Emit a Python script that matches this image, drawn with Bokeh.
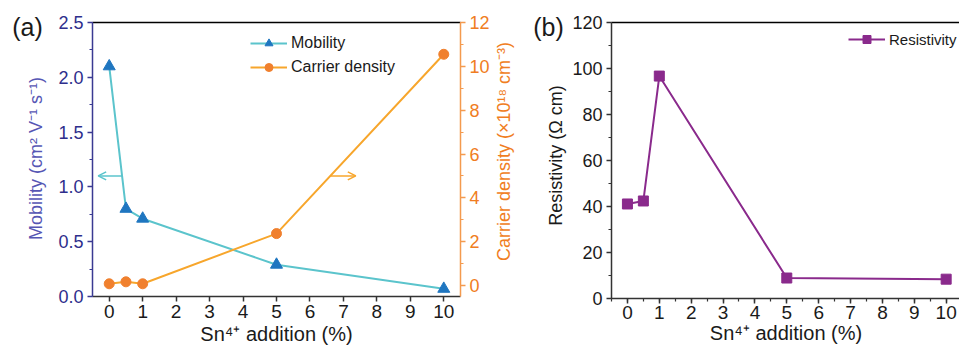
import math
from bokeh.plotting import figure
from bokeh.models import (Range1d, LinearAxis, SingleIntervalTicker, FixedTicker,
                          PrintfTickFormatter, Legend, LegendItem, Arrow, OpenHead, Label)
from bokeh.layouts import row
from bokeh.embed import file_html
from bokeh.resources import INLINE

# ---------------- data ----------------
sn_addition = [0, 0.5, 1, 5, 10]
mobility = [2.10, 0.80, 0.71, 0.29, 0.07]
carrier_density = [0.08, 0.17, 0.08, 2.37, 10.55]
resistivity = [41.1, 42.4, 96.7, 8.9, 8.4]
x_ticks = [0, 1, 2, 3, 4, 5, 6, 7, 8, 9, 10]

FONT = "Liberation Sans"
TICK_SIZE = "18px"
LABEL_SIZE = "18px"
XTICK_SIZE = "19px"
XLABEL_SIZE = "20px"

NAVY = "#2E2E8C"
NAVY_LABEL = "#5656B4"
ORANGE_AX = "#F07D22"
ORANGE_LINE = "#F7A62C"
ORANGE_MARK = "#F0802E"
CYAN = "#5BC4CC"
BLUE_MARK = "#1F76C0"
PURPLE = "#8A2A8C"
BLACK = "#1a1a1a"

P1_W_LEFT, P1_FRAME_W, P1_W_RIGHT = 92, 368, 58
P1_WIDTH = P1_W_LEFT + P1_FRAME_W + P1_W_RIGHT   # 518


def style_axis(ax, color, line_color=None, tick_size=TICK_SIZE, label_size=LABEL_SIZE):
    ax.axis_line_color = line_color or color
    ax.axis_line_width = 1.5
    ax.major_tick_line_color = line_color or color
    ax.minor_tick_line_color = line_color or color
    ax.major_tick_line_width = 1.5
    ax.minor_tick_line_width = 1.2
    ax.major_tick_in = 0
    ax.major_tick_out = 5
    ax.minor_tick_in = 0
    ax.minor_tick_out = 3
    ax.major_label_text_font = FONT
    ax.major_label_text_font_size = tick_size
    ax.major_label_text_color = color
    ax.axis_label_text_font = FONT
    ax.axis_label_text_font_size = label_size
    ax.axis_label_text_font_style = "normal"
    ax.axis_label_text_color = color


def top_border(p):
    top = LinearAxis(ticker=FixedTicker(ticks=[]), major_label_text_font_size="0px",
                     axis_line_color="black", axis_line_width=1.5,
                     major_tick_line_color=None, minor_tick_line_color=None)
    p.add_layout(top, "above")


def side_label(p, text, x, y, place, color=BLACK, size=LABEL_SIZE, angle=0.0):
    lab = Label(x=x, y=y, x_units="canvas", y_units="canvas", text=text, angle=angle,
                text_font=FONT, text_font_size=size, text_color=color,
                text_baseline="middle", text_align="center")
    p.add_layout(lab, place)


# ---------------- panel (a) ----------------
p1 = figure(frame_width=P1_FRAME_W, frame_height=274,
            min_border_left=P1_W_LEFT, min_border_right=P1_W_RIGHT,
            min_border_top=22, min_border_bottom=56,
            x_range=Range1d(-0.5, 10.5), y_range=Range1d(0, 2.5),
            output_backend="svg", toolbar_location=None)
p1.outline_line_color = None
p1.grid.visible = False
p1.background_fill_color = "white"
p1.border_fill_color = "white"

xa = p1.xaxis[0]
xa.ticker = FixedTicker(ticks=x_ticks)
xa.axis_label = "Sn⁴⁺ addition (%)"
style_axis(xa, BLACK, line_color="#333333", tick_size=XTICK_SIZE, label_size=XLABEL_SIZE)
xa.major_label_standoff = 3
xa.axis_label_standoff = 2

ya = p1.yaxis[0]
ya.ticker = SingleIntervalTicker(interval=0.5, num_minor_ticks=2)
ya.formatter = PrintfTickFormatter(format="%.1f")
style_axis(ya, NAVY, line_color="#3A3A92")
ya.major_label_standoff = 4

p1.extra_y_ranges = {"cd": Range1d(-0.5, 12)}
right_ax = LinearAxis(y_range_name="cd",
                      ticker=SingleIntervalTicker(interval=2, num_minor_ticks=2))
style_axis(right_ax, ORANGE_AX, line_color="#F49A4E")
right_ax.major_label_standoff = 4
p1.add_layout(right_ax, "right")

top_border(p1)

lm = p1.line(sn_addition, mobility, line_color=CYAN, line_width=2)
sm = p1.scatter(sn_addition, mobility, marker="triangle", size=12,
                fill_color=BLUE_MARK, line_color=BLUE_MARK)
lc = p1.line(sn_addition, carrier_density, line_color=ORANGE_LINE, line_width=2, y_range_name="cd")
sc = p1.scatter(sn_addition, carrier_density, marker="circle", size=10,
                fill_color=ORANGE_MARK, line_color=ORANGE_MARK, y_range_name="cd")

leg1 = Legend(items=[LegendItem(label="Mobility", renderers=[lm, sm]),
                     LegendItem(label="Carrier density", renderers=[lc, sc])],
              location=(158, 219), orientation="vertical")
leg1.border_line_color = None
leg1.background_fill_alpha = 0
leg1.padding = 0
leg1.margin = 0
leg1.spacing = 4
leg1.glyph_width = 37
leg1.glyph_height = 20
leg1.label_height = 20
leg1.label_standoff = 4
leg1.label_text_font = FONT
leg1.label_text_font_size = "16px"
leg1.label_text_color = BLACK
p1.add_layout(leg1)

p1.add_layout(Arrow(end=OpenHead(size=8, line_color=CYAN, line_width=1.5),
                    x_start=0.38, y_start=1.1, x_end=-0.33, y_end=1.1,
                    line_color=CYAN, line_width=1.5))
p1.add_layout(Arrow(end=OpenHead(size=8, line_color=ORANGE_LINE, line_width=1.5),
                    x_start=6.6, y_start=5.0, x_end=7.37, y_end=5.0,
                    line_color=ORANGE_LINE, line_width=1.5, y_range_name="cd"))

side_label(p1, "(a)", 27, 26, "left", size="25px")
side_label(p1, "Mobility (cm² V⁻¹ s⁻¹)", 35, 158, "left", color=NAVY_LABEL, angle=math.pi / 2)
side_label(p1, "Carrier density (×10¹⁸ cm⁻³)", 503, 151, "right", color=ORANGE_AX, angle=math.pi / 2)

# ---------------- panel (b) ----------------
p2 = figure(frame_width=349, frame_height=276,
            min_border_left=610 - P1_WIDTH, min_border_right=0,
            min_border_top=22, min_border_bottom=54,
            x_range=Range1d(-0.5, 10.45), y_range=Range1d(0, 120),
            output_backend="svg", toolbar_location=None)
p2.outline_line_color = None
p2.grid.visible = False
p2.background_fill_color = "white"
p2.border_fill_color = "white"

xb = p2.xaxis[0]
xb.ticker = SingleIntervalTicker(interval=1, num_minor_ticks=2)
xb.axis_label = "Sn⁴⁺ addition (%)"
style_axis(xb, BLACK, line_color="#333333", tick_size=XTICK_SIZE, label_size=XLABEL_SIZE)
xb.major_label_standoff = 2
xb.axis_label_standoff = 0

yb = p2.yaxis[0]
yb.ticker = SingleIntervalTicker(interval=20, num_minor_ticks=2)
style_axis(yb, BLACK, line_color="#333333")
yb.major_label_standoff = 4

top_border(p2)

lr = p2.line(sn_addition, resistivity, line_color=PURPLE, line_width=2)
sr = p2.scatter(sn_addition, resistivity, marker="square", size=10,
                fill_color=PURPLE, line_color=PURPLE)

leg2 = Legend(items=[LegendItem(label="Resistivity", renderers=[lr, sr])],
              location=(237, 249))
leg2.border_line_color = None
leg2.background_fill_alpha = 0
leg2.padding = 0
leg2.margin = 0
leg2.glyph_width = 37
leg2.glyph_height = 20
leg2.label_height = 20
leg2.label_standoff = 4
leg2.label_text_font = FONT
leg2.label_text_font_size = "15px"
leg2.label_text_color = BLACK
p2.add_layout(leg2)

side_label(p2, "(b)", 548 - P1_WIDTH, 26, "left", size="25px")
side_label(p2, "Resistivity (Ω cm)", 555 - P1_WIDTH, 155, "left", angle=math.pi / 2)

layout = row(p1, p2)
open("out.html", "w").write(file_html(layout, INLINE))
